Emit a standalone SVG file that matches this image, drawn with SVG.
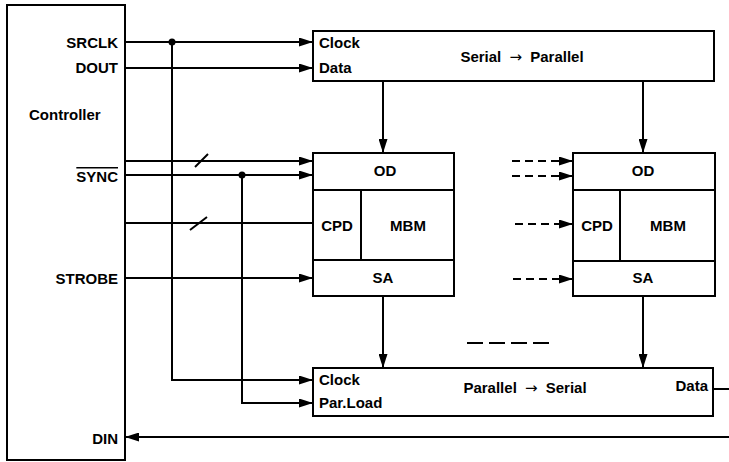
<svg xmlns="http://www.w3.org/2000/svg" width="729" height="462" viewBox="0 0 729 462">
<style>
.box{fill:#fff;stroke:#000;stroke-width:2}
.div{fill:none;stroke:#000;stroke-width:2}
.w{fill:none;stroke:#000;stroke-width:2}
.d{fill:none;stroke:#000;stroke-width:2;stroke-dasharray:8,5}
.t{font-family:"Liberation Sans",Arial,sans-serif;font-size:15px;font-weight:bold;fill:#000}
.arr{font-family:"DejaVu Sans",sans-serif;font-weight:normal}
.r{text-anchor:end}
.m{text-anchor:middle}
</style>
<defs>
<marker id="ah" markerUnits="userSpaceOnUse" markerWidth="15" markerHeight="9" refX="14" refY="4.5" orient="auto">
<path d="M0,0 L14,4.5 L0,9 z" fill="#000"/>
</marker>
</defs>
<rect width="729" height="462" fill="#fff"/>

<g id="controller">
<rect class="box" x="7" y="5" width="118" height="455"/>
<text class="t r" x="118" y="48">SRCLK</text>
<text class="t r" x="118" y="73">DOUT</text>
<text class="t" x="29" y="120">Controller</text>
<text class="t r" x="118" y="182" text-decoration="overline">SYNC</text>
<text class="t r" x="118" y="284">STROBE</text>
<text class="t r" x="118" y="444">DIN</text>
</g>

<g id="serial-parallel">
<rect class="box" x="313" y="31" width="401" height="50"/>
<text class="t" x="319" y="48">Clock</text>
<text class="t" x="319" y="73">Data</text>
<text class="t m" x="522" y="62">Serial <tspan class="arr" dx="4">→</tspan><tspan dx="4"> Parallel</tspan></text>
</g>

<g id="block1">
<rect class="box" x="313" y="153" width="141" height="143"/>
<path class="div" d="M313,190 H454 M313,260 H454 M361,190 V260"/>
<text class="t m" x="385" y="176">OD</text>
<text class="t m" x="337" y="231">CPD</text>
<text class="t m" x="408" y="231">MBM</text>
<text class="t m" x="383" y="283">SA</text>
</g>

<g id="block2">
<rect class="box" x="573" y="153" width="142" height="143"/>
<path class="div" d="M573,190 H715 M573,261 H715 M620,190 V261"/>
<text class="t m" x="643" y="176">OD</text>
<text class="t m" x="597" y="231">CPD</text>
<text class="t m" x="668" y="231">MBM</text>
<text class="t m" x="643" y="283">SA</text>
</g>

<g id="parallel-serial">
<rect class="box" x="313" y="368" width="400" height="48"/>
<text class="t" x="319" y="385">Clock</text>
<text class="t" x="319" y="408">Par.Load</text>
<text class="t m" x="525" y="393">Parallel <tspan class="arr" dx="4">→</tspan><tspan dx="4"> Serial</tspan></text>
<text class="t r" x="708" y="391">Data</text>
</g>

<g id="connectors">
<path class="w" d="M125,42 H313" marker-end="url(#ah)"/>
<path class="w" d="M125,68 H313" marker-end="url(#ah)"/>
<path class="w" d="M172,42 V380 H313" marker-end="url(#ah)"/>
<circle cx="172" cy="42" r="3.5" fill="#000"/>
<path class="w" d="M125,161 H313" marker-end="url(#ah)"/>
<path class="w" d="M195,167 L208,154"/>
<path class="w" d="M125,175 H313" marker-end="url(#ah)"/>
<path class="w" d="M242,175 V403 H313" marker-end="url(#ah)"/>
<circle cx="242" cy="175" r="3.5" fill="#000"/>
<path class="w" d="M125,223 H313"/>
<path class="w" d="M190,230 L207,217"/>
<path class="w" d="M125,278 H313" marker-end="url(#ah)"/>
<path class="w" d="M383,81 V153" marker-end="url(#ah)"/>
<path class="w" d="M643,81 V153" marker-end="url(#ah)"/>
<path class="w" d="M383,296 V368" marker-end="url(#ah)"/>
<path class="w" d="M643,296 V368" marker-end="url(#ah)"/>
<path class="d" d="M512,161 H573" marker-end="url(#ah)"/>
<path class="d" d="M512,176 H573" marker-end="url(#ah)"/>
<path class="d" d="M515,224 H573" marker-end="url(#ah)"/>
<path class="d" d="M513,279 H573" marker-end="url(#ah)"/>
<path class="w" d="M467,343 H549" style="stroke-dasharray:16,6"/>
<path class="w" d="M713,389 H729"/>
<path class="w" d="M729,437 H125" marker-end="url(#ah)"/>
</g>
</svg>
